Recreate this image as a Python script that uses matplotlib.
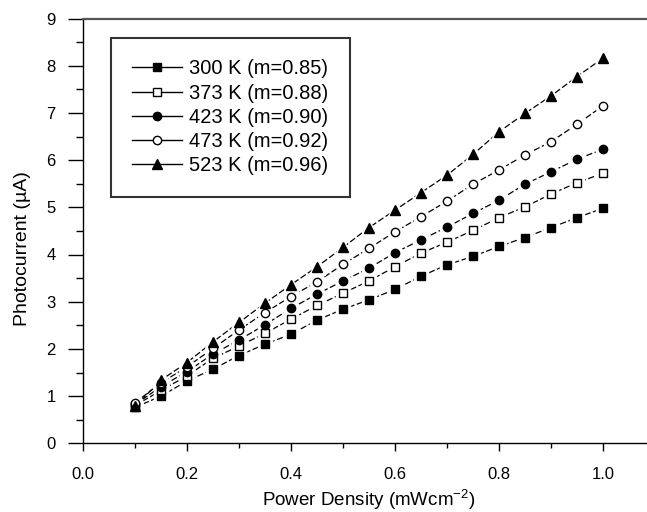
import matplotlib
matplotlib.use("Agg")
import matplotlib.pyplot as plt
from matplotlib.lines import Line2D
from matplotlib.ticker import MultipleLocator, FormatStrFormatter

plt.rcParams['font.family'] = ['Liberation Sans', 'DejaVu Sans']
plt.rcParams['mathtext.fontset'] = 'custom'
plt.rcParams['mathtext.rm'] = 'Liberation Sans'

power = [0.1, 0.15, 0.2, 0.25, 0.3, 0.35, 0.4, 0.45, 0.5, 0.55,
         0.6, 0.65, 0.7, 0.75, 0.8, 0.85, 0.9, 0.95, 1.0]
i_300 = [0.76, 1.00, 1.32, 1.57, 1.86, 2.10, 2.31, 2.61, 2.84, 3.04,
         3.26, 3.54, 3.78, 3.96, 4.17, 4.36, 4.57, 4.78, 4.98]
i_373 = [0.80, 1.12, 1.43, 1.80, 2.06, 2.33, 2.63, 2.92, 3.18, 3.44,
         3.74, 4.03, 4.26, 4.51, 4.78, 5.01, 5.28, 5.52, 5.72]
i_423 = [0.82, 1.20, 1.52, 1.89, 2.19, 2.51, 2.86, 3.16, 3.44, 3.71,
         4.04, 4.31, 4.58, 4.87, 5.15, 5.49, 5.75, 6.02, 6.23]
i_473 = [0.86, 1.28, 1.62, 2.01, 2.40, 2.77, 3.11, 3.42, 3.79, 4.13,
         4.48, 4.80, 5.13, 5.49, 5.79, 6.11, 6.39, 6.76, 7.15]
i_523 = [0.78, 1.34, 1.71, 2.15, 2.56, 2.97, 3.36, 3.74, 4.15, 4.57,
         4.94, 5.31, 5.68, 6.12, 6.60, 6.99, 7.36, 7.77, 8.16]
labels = ["300 K (m=0.85)", "373 K (m=0.88)", "423 K (m=0.90)",
          "473 K (m=0.92)", "523 K (m=0.96)"]

series = [i_300, i_373, i_423, i_473, i_523]
markers = ['s', 's', 'o', 'o', '^']
faces = ['black', 'white', 'black', 'white', 'black']
sizes = [5.5, 5.5, 6.0, 6.0, 7.0]

W, H = 647, 512
fig = plt.figure(figsize=(W / 100, H / 100), dpi=100)
ax = fig.add_axes([83 / W, (H - 443.3) / H, 572 / W, 424.8 / H])

for y, m, fc, ms in zip(series, markers, faces, sizes):
    ax.plot(power, y, color='black', lw=0.9, linestyle=(0, (5, 2)), zorder=2)
    ax.plot(power, y, linestyle='none', marker=m, ms=ms + 5, mfc='white',
            mec='white', zorder=3)
for y, m, fc, ms in zip(series, markers, faces, sizes):
    ax.plot(power, y, linestyle='none', marker=m, ms=ms, mfc=fc,
            mec='black', mew=1.0, zorder=4)

ax.set_xlim(0, 1.1)
ax.set_ylim(0, 9)
ax.xaxis.set_major_locator(MultipleLocator(0.2))
ax.xaxis.set_minor_locator(MultipleLocator(0.1))
ax.yaxis.set_major_locator(MultipleLocator(1))
ax.yaxis.set_minor_locator(MultipleLocator(0.5))
ax.xaxis.set_major_formatter(FormatStrFormatter('%.1f'))

ax.tick_params(axis='y', which='major', direction='out', length=10.8, width=1.0,
               labelsize=12, pad=9)
ax.tick_params(axis='y', which='minor', direction='out', length=5, width=1.0)
ax.tick_params(axis='x', which='major', direction='out', length=5.8, width=1.0,
               labelsize=12, pad=11)
ax.tick_params(axis='x', which='minor', direction='out', length=3.6, width=1.0)

ax.spines['left'].set_linewidth(1.0)
ax.spines['bottom'].set_linewidth(1.0)
ax.spines['top'].set_linewidth(1.6)
ax.spines['top'].set_color('#555555')
ax.spines['right'].set_visible(False)

ax.set_xlabel(r"Power Density (mWcm$^{\mathregular{-2}}$)", fontsize=13.5)
ax.set_ylabel("Photocurrent (\u00b5A)", fontsize=14)
ax.xaxis.set_label_coords((369 - 83) / 572, -(487 - 443.3) / 424.8)
ax.yaxis.set_label_coords(-(83 - 31) / 572, (443.3 - 249) / 424.8)

handles = [Line2D([], [], color='black', lw=1.0, marker=m, ms=ms, mfc=fc,
                  mec='black') for m, fc, ms in zip(markers, faces, sizes)]
leg = ax.legend(handles, labels, loc='upper left',
                bbox_to_anchor=(110.7 / W, 1 - 38.3 / H),
                bbox_transform=fig.transFigure, borderaxespad=0,
                fontsize=14.5, labelspacing=0.26, handlelength=2.5,
                handletextpad=0.35, borderpad=1.05, fancybox=False,
                framealpha=1, edgecolor='#333333')
leg.get_frame().set_linewidth(1.5)

fig.savefig("out.png", dpi=100)
